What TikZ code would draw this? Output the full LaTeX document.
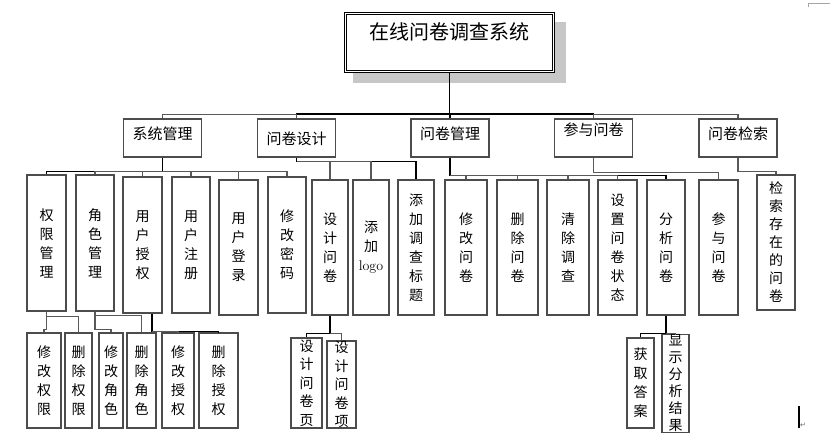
\documentclass[tikz,border=0pt]{standalone}
\usepackage{fontspec}
\newfontfamily\cjkfont{Noto Sans CJK SC}
\newfontfamily\symfont{DejaVu Sans}
\begin{document}
\begin{tikzpicture}[x=1pt,y=-1pt,
  box/.style={draw=black!70,line width=1.1pt,fill=white,inner sep=0pt,align=center,
    font=\cjkfont\fontsize{14}{19}\selectfont},
  tall/.style={box,minimum height=135pt},
  low/.style={box,minimum height=95pt},
  head/.style={box,minimum width=78pt,text height=20pt,text depth=18pt,
    font=\cjkfont\fontsize{15}{18}\selectfont},
  link/.style={draw=black!65,line width=1.1pt},
  bus/.style={draw=black,line width=1.5pt}]
\useasboundingbox (0,0) rectangle (830,437);
\fill[black!22] (353,22) rectangle (566,83);
\node[draw=black,double,double distance=1.6pt,line width=0.8pt,fill=white,inner sep=0pt,
  minimum width=208pt,text height=26pt,text depth=32pt,
  font=\cjkfont\fontsize{20}{24}\selectfont] (title) at (449.5,42.5) {在线问卷调查系统};
\node[head] (xtgl) at (162.5,138) {系统管理};
\node[head,text height=25pt,text depth=13pt] (wjsj) at (296.5,138) {问卷设计};
\node[head] (wjgl) at (450,138) {问卷管理};
\node[head,text height=16pt,text depth=22pt] (cywj) at (593.5,138) {参与问卷};
\node[head] (wjjs) at (738,138) {问卷检索};
\draw[bus] (title.south) -- ++(0,42) -| (wjsj.north);
\draw[bus] (title.south) -- ++(0,42) -| (wjgl.north);
\draw[bus] (title.south) -- ++(0,42) -| (cywj.north);
\draw[link] (wjsj.north) -- ++(0,-4) -| (xtgl.north);
\draw[link] (cywj.north) -- ++(0,-4) -| (wjjs.north);
\node[box,minimum width=39pt,minimum height=136pt] (qxgl) at (46.5,243) {权\\限\\管\\理};
\node[box,minimum width=38pt,minimum height=136pt] (jsgl) at (95,243) {角\\色\\管\\理};
\node[box,minimum width=39pt,minimum height=136pt] (yhsq) at (142.5,245) {用\\户\\授\\权};
\node[box,minimum width=38pt,minimum height=136pt] (yhzc) at (191,245) {用\\户\\注\\册};
\node[tall,minimum width=39pt] (yhdl) at (238.5,247.5) {用\\户\\登\\录};
\node[box,minimum width=38pt,minimum height=136pt] (xgmm) at (287,245) {修\\改\\密\\码};
\node[tall,minimum width=36pt] (sjwj) at (330,247.5) {设\\计\\问\\卷};
\node[tall,minimum width=36pt] (tjlogo) at (371,247.5) {添\\加\\{\rmfamily logo}};
\node[tall,minimum width=36pt] (tjbt) at (416,247.5) {添\\加\\调\\查\\标\\题};
\node[tall,minimum width=42pt] (xgwj) at (466,247.5) {修\\改\\问\\卷};
\node[tall,minimum width=41pt] (scwj) at (517.5,247.5) {删\\除\\问\\卷};
\node[tall,minimum width=42pt] (qcdc) at (568,247.5) {清\\除\\调\\查};
\node[tall,minimum width=39pt] (szzt) at (617.5,247.5) {设\\置\\问\\卷\\状\\态};
\node[tall,minimum width=38pt] (fxwj) at (666,247.5) {分\\析\\问\\卷};
\node[tall,minimum width=39pt] (cyzj) at (718.5,247.5) {参\\与\\问\\卷};
\node[tall,minimum width=38pt,font=\cjkfont\fontsize{14}{18}\selectfont] (jscz) at (776,242.5) {检\\索\\存\\在\\的\\问\\卷};
\draw[bus] (xtgl.south) -- ++(0,14) -| (qxgl.north);
\draw[link] (xtgl.south) ++(0,14) -| (jsgl.north);
\draw[link] (xtgl.south) ++(0,14) -| (yhsq.north);
\draw[link] (xtgl.south) ++(0,14) -| (yhzc.north);
\draw[link] (xtgl.south) ++(0,14) -| (yhdl.north);
\draw[link] (xtgl.south) ++(0,14) -| (xgmm.north);
\draw[bus] (wjsj.south) -- ++(0,4) -| (tjbt.north);
\draw[link] (wjsj.south) ++(0,4) -| (sjwj.north);
\draw[link] (wjsj.south) ++(0,4) -| (tjlogo.north);
\draw[bus] (wjgl.south) -- ++(0,18) -| (fxwj.north);
\draw[link] (wjgl.south) ++(0,18) -| (xgwj.north);
\draw[link] (wjgl.south) ++(0,18) -| (scwj.north);
\draw[link] (wjgl.south) ++(0,18) -| (qcdc.north);
\draw[link] (wjgl.south) ++(0,18) -| (szzt.north);
\draw[link] (cywj.south) -- ++(0,15) -| (cyzj.north);
\draw[link] (wjjs.south) -- ++(0,14) -| (jscz.north);
\node[low,minimum width=34pt] (xgqx) at (44,380.5) {修\\改\\权\\限};
\node[low,minimum width=27pt] (scqx) at (78.5,380.5) {删\\除\\权\\限};
\node[low,minimum width=24pt] (xgjs) at (111,380.5) {修\\改\\角\\色};
\node[low,minimum width=29pt] (scjs) at (141.5,380.5) {删\\除\\角\\色};
\node[low,minimum width=32pt] (xgsq) at (178,380.5) {修\\改\\授\\权};
\node[low,minimum width=39pt] (scsq) at (218.5,380.5) {删\\除\\授\\权};
\node[box,minimum width=31pt,minimum height=90pt,font=\cjkfont\fontsize{14}{18.5}\selectfont] (sjwjy) at (306.5,383) {设\\计\\问\\卷\\页};
\node[box,minimum width=29pt,minimum height=87pt,font=\cjkfont\fontsize{14}{18.5}\selectfont] (sjwjx) at (341.5,384.5) {设\\计\\问\\卷\\项};
\node[box,minimum width=27pt,minimum height=90pt] (hqda) at (640.5,383) {获\\取\\答\\案};
\node[box,minimum width=27pt,minimum height=89pt,font=\cjkfont\fontsize{14}{17}\selectfont] (xsfx) at (675.5,383.5) {显\\示\\分\\析\\结\\果};
\draw[link] (qxgl.south) -- ++(0,5) -| (scqx.north);
\draw[link] (qxgl.south) -- ++(0,18) -| (xgqx.north);
\draw[link] (jsgl.south) -- ++(0,4) -| (scjs.north);
\draw[link] (jsgl.south) -- ++(0,18) -| (xgjs.north);
\draw[bus] ([xshift=9.5pt]yhsq.south) -- ++(0,18) -| (scsq.north);
\draw[link] ([xshift=9.5pt]yhsq.south) ++(0,18) -| (xgsq.north);
\draw[bus] (sjwj.south) -- ++(0,18) -| (sjwjy.north);
\draw[link] (sjwj.south) ++(0,18) -| (sjwjx.north);
\draw[bus] (fxwj.south) -- ++(0,18) -| (hqda.north);
\draw[link] (fxwj.south) ++(0,18) -| (xsfx.north);
\draw[line width=1.6pt] (799,406) -- (799,428);
\node[font=\symfont\fontsize{7}{7}\selectfont,text=black!60,inner sep=0pt] (mark) at (803,425) {↵};
\draw[black!35,line width=0.6pt] (808,7) -- (808,3) -- (830,3);
\end{tikzpicture}
\end{document}
